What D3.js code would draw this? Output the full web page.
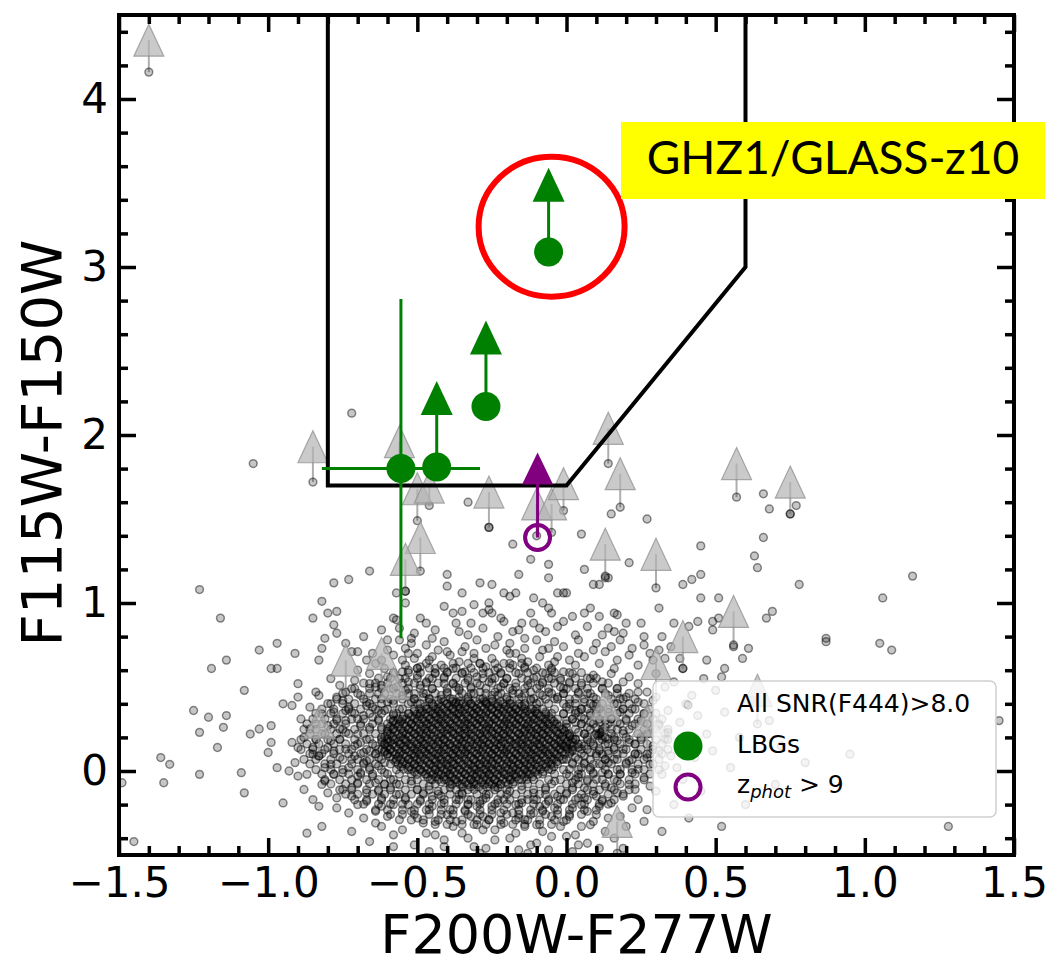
<!DOCTYPE html>
<html>
<head>
<meta charset="utf-8">
<script src="https://cdn.jsdelivr.net/npm/d3@7"></script>
<style>
  html, body { margin: 0; padding: 0; background: #fff; }
  svg { display: block; }
</style>
</head>
<body>
<svg id="chart" width="1051" height="967"></svg>
<script>
// ---- axes ----
const xDomain = [-1.5, 1.5];
const yDomain = [-0.5, 4.5];
const xTicks = [-1.5, -1.0, -0.5, 0.0, 0.5, 1.0, 1.5];
const yTicks = [0, 1, 2, 3, 4];
const xLabel = "F200W-F277W";
const yLabel = "F115W-F150W";

// ---- colour-selection window (F200W-F277W, F115W-F150W) ----
const selectionX = [-0.8, -0.8, 0.0, 0.6, 0.6];
const selectionY = [4.8, 1.7, 1.7, 3.0, 4.8];

// ---- Lyman-break candidates ----
const lbgX     = [-0.06, -0.27, -0.435, -0.555];
const lbgY     = [3.09, 2.17, 1.81, 1.80];
const lbgLimit = [3.49, 2.58, 2.22, null];   // lower limit on F115W-F150W
const lbgXErr  = [0, 0, 0, 0.265];
const lbgYErr  = [0, 0, 0, 1.01];

// ---- z_phot > 9 candidate ----
const zphotX = [-0.097];
const zphotY = [1.39];
const zphotLimit = [1.80];

// ---- catalogue sources with F115W dropout (x, colour, lower limit) ----
const limitSources = [
  [-1.40, 4.16, 4.35], [-0.85, 1.72, 1.93], [-0.56, 1.75, 1.96], [-0.50, 1.49, 1.68],
  [-0.46, 1.58, 1.69], [-0.26, 1.45, 1.66], [-0.49, 1.19, 1.39], [-0.54, 1.07, 1.26],
  [-0.10, 1.40, 1.59], [-0.05, 1.42, 1.59], [-0.01, 1.55, 1.71], [0.14, 1.83, 2.04],
  [0.18, 1.57, 1.77], [0.57, 1.63, 1.83], [0.75, 1.53, 1.72], [0.13, 1.16, 1.35],
  [0.30, 1.09, 1.29], [0.56, 0.75, 0.95], [0.39, 0.61, 0.80], [0.64, 0.28, 0.48],
  [-0.74, 0.47, 0.66], [-0.62, 0.51, 0.70], [-0.58, 0.33, 0.52], [-0.83, 0.09, 0.29],
  [0.17, -0.49, -0.30], [0.13, 0.20, 0.40], [0.27, 0.10, 0.30], [0.30, 0.44, 0.64]
];

// ---- all sources with SNR(F444W) > 8: dense core, row by row (colour, [x...]) ----
const coreRows = [
  [.415, [-.411,-.384,-.357,-.330,-.303,-.276,-.249,-.222]],
  [.400, [-.429,-.402,-.375,-.348,-.321,-.294,-.267,-.240,-.213,-.186,-.159]],
  [.385, [-.474,-.447,-.420,-.393,-.366,-.339,-.312,-.285,-.258,-.231,-.204,-.177,-.150]],
  [.370, [-.492,-.465,-.438,-.411,-.384,-.357,-.330,-.303,-.276,-.249,-.222,-.195,-.168,-.141,-.114]],
  [.355, [-.510,-.483,-.456,-.429,-.402,-.375,-.348,-.321,-.294,-.267,-.240,-.213,-.186,-.159,-.132,-.105]],
  [.340, [-.528,-.501,-.474,-.447,-.420,-.393,-.366,-.339,-.312,-.285,-.258,-.231,-.204,-.177,-.150,-.123,-.096,-.069]],
  [.325, [-.546,-.519,-.492,-.465,-.438,-.411,-.384,-.357,-.330,-.303,-.276,-.249,-.222,-.195,-.168,-.141,-.114,-.087,-.060]],
  [.310, [-.564,-.537,-.510,-.483,-.456,-.429,-.402,-.375,-.348,-.321,-.294,-.267,-.240,-.213,-.186,-.159,-.132,-.105,-.078,-.051]],
  [.295, [-.582,-.555,-.528,-.501,-.474,-.447,-.420,-.393,-.366,-.339,-.312,-.285,-.258,-.231,-.204,-.177,-.150,-.123,-.096,-.069,-.042]],
  [.280, [-.573,-.546,-.519,-.492,-.465,-.438,-.411,-.384,-.357,-.330,-.303,-.276,-.249,-.222,-.195,-.168,-.141,-.114,-.087,-.060,-.033]],
  [.265, [-.591,-.564,-.537,-.510,-.483,-.456,-.429,-.402,-.375,-.348,-.321,-.294,-.267,-.240,-.213,-.186,-.159,-.132,-.105,-.078,-.051,-.024]],
  [.250, [-.582,-.555,-.528,-.501,-.474,-.447,-.420,-.393,-.366,-.339,-.312,-.285,-.258,-.231,-.204,-.177,-.150,-.123,-.096,-.069,-.042,-.015]],
  [.235, [-.600,-.573,-.546,-.519,-.492,-.465,-.438,-.411,-.384,-.357,-.330,-.303,-.276,-.249,-.222,-.195,-.168,-.141,-.114,-.087,-.060,-.033,-.006]],
  [.220, [-.591,-.564,-.537,-.510,-.483,-.456,-.429,-.402,-.375,-.348,-.321,-.294,-.267,-.240,-.213,-.186,-.159,-.132,-.105,-.078,-.051,-.024,.003]],
  [.205, [-.609,-.582,-.555,-.528,-.501,-.474,-.447,-.420,-.393,-.366,-.339,-.312,-.285,-.258,-.231,-.204,-.177,-.150,-.123,-.096,-.069,-.042,-.015,.012]],
  [.190, [-.600,-.573,-.546,-.519,-.492,-.465,-.438,-.411,-.384,-.357,-.330,-.303,-.276,-.249,-.222,-.195,-.168,-.141,-.114,-.087,-.060,-.033,-.006,.021]],
  [.175, [-.618,-.591,-.564,-.537,-.510,-.483,-.456,-.429,-.402,-.375,-.348,-.321,-.294,-.267,-.240,-.213,-.186,-.159,-.132,-.105,-.078,-.051,-.024,.003]],
  [.160, [-.609,-.582,-.555,-.528,-.501,-.474,-.447,-.420,-.393,-.366,-.339,-.312,-.285,-.258,-.231,-.204,-.177,-.150,-.123,-.096,-.069,-.042,-.015,.012,.039]],
  [.145, [-.600,-.573,-.546,-.519,-.492,-.465,-.438,-.411,-.384,-.357,-.330,-.303,-.276,-.249,-.222,-.195,-.168,-.141,-.114,-.087,-.060,-.033,-.006,.021]],
  [.130, [-.618,-.591,-.564,-.537,-.510,-.483,-.456,-.429,-.402,-.375,-.348,-.321,-.294,-.267,-.240,-.213,-.186,-.159,-.132,-.105,-.078,-.051,-.024,.003]],
  [.115, [-.609,-.582,-.555,-.528,-.501,-.474,-.447,-.420,-.393,-.366,-.339,-.312,-.285,-.258,-.231,-.204,-.177,-.150,-.123,-.096,-.069,-.042,-.015,.012]],
  [.100, [-.600,-.573,-.546,-.519,-.492,-.465,-.438,-.411,-.384,-.357,-.330,-.303,-.276,-.249,-.222,-.195,-.168,-.141,-.114,-.087,-.060,-.033,-.006]],
  [.085, [-.591,-.564,-.537,-.510,-.483,-.456,-.429,-.402,-.375,-.348,-.321,-.294,-.267,-.240,-.213,-.186,-.159,-.132,-.105,-.078,-.051,-.024]],
  [.070, [-.582,-.555,-.528,-.501,-.474,-.447,-.420,-.393,-.366,-.339,-.312,-.285,-.258,-.231,-.204,-.177,-.150,-.123,-.096,-.069,-.042,-.015]],
  [.055, [-.573,-.546,-.519,-.492,-.465,-.438,-.411,-.384,-.357,-.330,-.303,-.276,-.249,-.222,-.195,-.168,-.141,-.114,-.087,-.060,-.033]],
  [.040, [-.564,-.537,-.510,-.483,-.456,-.429,-.402,-.375,-.348,-.321,-.294,-.267,-.240,-.213,-.186,-.159,-.132,-.105,-.078,-.051]],
  [.025, [-.555,-.528,-.501,-.474,-.447,-.420,-.393,-.366,-.339,-.312,-.285,-.258,-.231,-.204,-.177,-.150,-.123,-.096,-.069,-.042]],
  [.010, [-.546,-.519,-.492,-.465,-.438,-.411,-.384,-.357,-.330,-.303,-.276,-.249,-.222,-.195,-.168,-.141,-.114,-.087,-.060]],
  [-.005, [-.510,-.483,-.456,-.429,-.402,-.375,-.348,-.321,-.294,-.267,-.240,-.213,-.186,-.159,-.132,-.105,-.078]],
  [-.020, [-.501,-.474,-.447,-.420,-.393,-.366,-.339,-.312,-.285,-.258,-.231,-.204,-.177,-.150,-.123,-.096]],
  [-.035, [-.465,-.438,-.411,-.384,-.357,-.330,-.303,-.276,-.249,-.222,-.195,-.168,-.141,-.114]],
  [-.050, [-.456,-.429,-.402,-.375,-.348,-.321,-.294,-.267,-.240,-.213,-.186,-.159,-.132]],
  [-.065, [-.420,-.393,-.366,-.339,-.312,-.285,-.258,-.231,-.204,-.177]],
  [-.080, [-.384,-.357,-.330,-.303,-.276,-.249,-.222,-.195]],
  [-.095, [-.348,-.321,-.294,-.267,-.240]]
];

// ---- all sources with SNR(F444W) > 8: main body around the core, row by row ----
const bodyRows = [
  [.640, [-.38,-.33,-.29,-.24,-.19,-.15]],
  [.612, [-.50,-.46,-.41,-.37,-.32,-.28,-.23,-.19,-.14,-.10,-.05]],
  [.585, [-.58,-.53,-.49,-.44,-.40,-.35,-.31,-.26,-.22,-.17,-.13,-.08,-.04,.01,.05]],
  [.552, [-.63,-.59,-.54,-.50,-.46,-.41,-.37,-.33,-.28,-.24,-.20,-.15,-.11,-.06,-.02,.03,.07,.10]],
  [.523, [-.68,-.64,-.60,-.55,-.51,-.47,-.43,-.38,-.34,-.30,-.25,-.21,-.17,-.12,-.08,-.04,.01,.05,.09,.14]],
  [.491, [-.71,-.66,-.62,-.58,-.53,-.49,-.45,-.40,-.36,-.32,-.27,-.23,-.19,-.14,-.10,-.06,-.01,.03,.07,.12,.17]],
  [.462, [-.75,-.70,-.66,-.61,-.57,-.53,-.48,-.44,-.40,-.35,-.31,-.27,-.22,-.18,-.14,-.09,-.05,-.01,.04,.08,.13,.17,.21]],
  [.428, [-.77,-.73,-.68,-.64,-.59,-.55,-.51,-.46,-.42,-.38,-.33,-.29,-.25,-.20,-.16,-.12,-.07,-.03,.01,.06,.10,.15,.19,.23]],
  [.401, [-.80,-.75,-.71,-.66,-.62,-.58,-.53,-.49,-.45,-.40,-.36,-.32,-.27,-.23,-.19,-.14,-.10,-.06,-.01,.03,.08,.12,.17,.21,.26]],
  [.368, [-.82,-.78,-.73,-.69,-.64,-.60,-.56,-.51,-.47,-.43,-.38,-.34,-.30,-.25,-.21,-.17,-.12,-.08,-.04,.01,.05,.10,.14,.19,.23,.28]],
  [.343, [-.84,-.79,-.75,-.71,-.66,-.62,-.57,-.53,-.49,-.44,-.40,-.36,-.31,-.27,-.23,-.18,-.14,-.10,-.05,-.01,.03,.08,.12,.17,.21,.26,.30]],
  [.309, [-.85,-.81,-.77,-.72,-.68,-.63,-.59,-.55,-.50,-.46,-.42,-.37,-.33,-.29,-.24,-.20,-.16,-.11,-.07,-.03,.02,.06,.11,.15,.20,.24,.29,.32]],
  [.281, [-.87,-.82,-.78,-.74,-.69,-.65,-.60,-.56,-.52,-.47,-.43,-.39,-.34,-.30,-.26,-.21,-.17,-.13,-.08,-.04,.00,.05,.09,.14,.18,.23,.27,.31]],
  [.248, [-.88,-.84,-.79,-.75,-.71,-.66,-.62,-.58,-.53,-.49,-.45,-.40,-.36,-.32,-.27,-.23,-.19,-.14,-.10,-.06,-.01,.03,.08,.12,.17,.21,.26,.30,.34]],
  [.222, [-.86,-.82,-.77,-.73,-.68,-.64,-.60,-.55,-.51,-.47,-.42,-.38,-.34,-.29,-.25,-.21,-.16,-.12,-.08,-.03,.01,.06,.10,.15,.19,.24,.28,.33]],
  [.187, [-.89,-.84,-.80,-.76,-.71,-.67,-.62,-.58,-.54,-.49,-.45,-.41,-.36,-.32,-.28,-.23,-.19,-.15,-.10,-.06,-.02,.03,.07,.12,.16,.21,.25,.30,.34]],
  [.161, [-.87,-.83,-.78,-.74,-.70,-.65,-.61,-.56,-.52,-.48,-.43,-.39,-.35,-.30,-.26,-.22,-.17,-.13,-.09,-.04,.00,.05,.09,.14,.18,.23,.27,.32]],
  [.128, [-.89,-.85,-.81,-.76,-.72,-.67,-.63,-.59,-.54,-.50,-.46,-.41,-.37,-.33,-.28,-.24,-.20,-.15,-.11,-.07,-.02,.02,.07,.11,.16,.20,.25,.29,.34]],
  [.103, [-.86,-.82,-.78,-.73,-.69,-.64,-.60,-.56,-.51,-.47,-.43,-.38,-.34,-.30,-.25,-.21,-.17,-.12,-.08,-.04,.01,.05,.10,.14,.19,.23,.28,.32]],
  [.069, [-.88,-.84,-.79,-.75,-.70,-.66,-.62,-.57,-.53,-.49,-.44,-.40,-.36,-.31,-.27,-.23,-.18,-.14,-.10,-.05,-.01,.04,.08,.13,.17,.22,.26,.31]],
  [.042, [-.86,-.81,-.77,-.72,-.68,-.64,-.59,-.55,-.51,-.46,-.42,-.38,-.33,-.29,-.25,-.20,-.16,-.12,-.07,-.03,.02,.06,.11,.15,.20,.24,.29]],
  [.008, [-.84,-.79,-.75,-.70,-.66,-.62,-.57,-.53,-.49,-.44,-.40,-.36,-.31,-.27,-.23,-.18,-.14,-.10,-.05,-.01,.04,.08,.13,.17,.22,.26,.31]],
  [-.018, [-.82,-.78,-.73,-.69,-.65,-.60,-.56,-.52,-.47,-.43,-.39,-.34,-.30,-.26,-.21,-.17,-.13,-.08,-.04,.00,.05,.09,.14,.18,.23,.28]],
  [-.052, [-.81,-.76,-.72,-.67,-.63,-.58,-.54,-.50,-.45,-.41,-.37,-.32,-.28,-.24,-.19,-.15,-.11,-.06,-.02,.03,.07,.12,.16,.21,.26]],
  [-.077, [-.79,-.74,-.70,-.66,-.61,-.57,-.52,-.48,-.44,-.39,-.35,-.31,-.26,-.22,-.18,-.13,-.09,-.05,.00,.04,.09,.13,.18,.23]],
  [-.112, [-.76,-.72,-.67,-.63,-.59,-.54,-.50,-.46,-.41,-.37,-.33,-.28,-.24,-.20,-.15,-.11,-.07,-.02,.02,.07,.11,.16,.21]],
  [-.138, [-.74,-.70,-.65,-.61,-.56,-.52,-.48,-.43,-.39,-.35,-.30,-.26,-.22,-.17,-.13,-.09,-.04,.00,.05,.09,.14,.19]],
  [-.171, [-.71,-.67,-.62,-.58,-.54,-.49,-.45,-.41,-.36,-.32,-.28,-.23,-.19,-.15,-.10,-.06,-.02,.03,.07,.12,.16]],
  [-.197, [-.68,-.63,-.59,-.55,-.50,-.46,-.42,-.37,-.33,-.29,-.24,-.20,-.16,-.11,-.07,-.03,.02,.06,.11,.14]],
  [-.232, [-.64,-.60,-.55,-.51,-.47,-.42,-.38,-.34,-.29,-.25,-.21,-.16,-.12,-.08,-.03,.01,.06,.10]],
  [-.258, [-.59,-.55,-.51,-.46,-.42,-.38,-.33,-.29,-.25,-.20,-.16,-.12,-.07,-.03,.01,.05]],
  [-.291, [-.52,-.48,-.43,-.39,-.35,-.30,-.26,-.22,-.17,-.13,-.09,-.04,.00]],
  [-.318, [-.44,-.40,-.35,-.31,-.27,-.22,-.18,-.14,-.09,-.05]]
];

// ---- all sources with SNR(F444W) > 8: outskirts of the cloud ----
const fieldPoints = [
  // right shoulder
  [.01,.40],[.03,.36],[.06,.41],[.02,.31],[.05,.28],[.08,.33],[.11,.37],[.04,.23],
  [.07,.20],[.10,.26],[.13,.30],[.02,.17],[.05,.13],[.09,.15],[.12,.21],[.15,.25],
  [.03,.08],[.06,.05],[.10,.09],[.14,.12],[.17,.18],[.01,.01],[.04,-.02],[.08,.02],
  [.12,.04],[.16,.07],[.19,.13],[.02,-.07],[.06,-.10],[.10,-.05],[.14,-.02],[.18,.01],
  [.21,.06],[.00,-.13],[.04,-.16],[.09,-.12],[.13,-.09],[.17,-.06],[.22,-.01],[.24,.10],
  [.20,.20],[.17,.29],[.14,.35],[.09,.44],[.04,.47],[.12,.49],[.18,.43],[.22,.37],
  [.25,.30],[.27,.22],[.29,.15],[.28,.04],[.26,-.04],[.23,-.11],[.19,-.15],[.15,-.19],
  [.11,-.21],[.07,-.24],[.02,-.22],[.31,.27],[.33,.19],[.35,.09],[.32,-.02],[.30,-.12],
  [.34,.36],[.29,.42],[.24,.47],[.19,.53],[.15,.58],[.08,.55],[.38,.29],[.40,.14],
  [.37,.02],[.42,.45],[.36,.53],[-.01,.46],[.00,.26],[.02,.12],[.07,.37],[.11,.18],
  [.13,.07],[.09,-.01],[.05,.32],[.16,.40],[.20,.30],[.23,.16],[.01,.53],[.06,.15],
  [.00,.07],[-.01,.34],[.11,.22],[.12,.235],[.105,.21],[.115,.228],[.095,.215],
  [.00,.38],[.01,.21],[.02,.05],[.02,-.10],[.03,.29],[.04,.14],[.04,-.04],[.05,.37],
  [.06,.22],[.06,.09],[.07,-.06],[.08,.29],[.08,.17],[.09,.04],[.10,-.15],[.10,.34],
  [.11,.12],[.12,-.01],[.13,.26],[.13,.16],[.14,.05],[.15,-.10],[.15,.31],[.16,.20],
  [.17,.10],[.18,-.02],[.18,.35],[.19,.24],[.20,.05],[.21,-.08],[.22,.27],[.23,.10],
  [.24,.01],[.25,.20],[.26,.34],[.27,.08],[.28,-.09],[.29,.25],[.31,.12],[.33,.03],
  [.34,.23],[.03,.19],[.05,.02],[.07,.26],[.09,.39],[.11,.29],[.12,.10],[.14,.19],
  [.16,.14],[.01,-.03],[-.01,.15],[.00,.30],[.06,-.16],[.12,-.18],[.17,-.13],[.21,.17],
  [.19,.37],[.24,.41],[.08,.11],[.04,.35],
  // left shoulder
  [-.62,.43],[-.65,.38],[-.68,.33],[-.63,.30],[-.66,.26],[-.70,.22],[-.62,.20],[-.64,.15],
  [-.68,.11],[-.72,.07],[-.63,.08],[-.66,.02],[-.61,-.01],[-.70,-.03],[-.64,-.07],[-.59,-.10],
  [-.74,.30],[-.76,.19],[-.78,.12],[-.73,.38],[-.77,.44],[-.80,.27],[-.82,.34],[-.84,.19],
  [-.79,.04],[-.75,-.01],[-.81,-.06],[-.72,-.10],[-.67,-.13],[-.62,-.16],[-.77,-.16],[-.70,-.20],
  [-.64,-.24],[-.58,-.20],[-.85,.10],[-.86,.25],[-.69,.45],[-.64,.50],[-.71,.54],[-.76,.51],
  [-.60,.56],[-.66,.58],[-.61,.36],[-.69,.17],[-.74,.13],[-.60,.25],[-.61,.12],[-.63,.03],
  [-.67,.06],[-.78,.35],[-.83,.45],[-.80,-.13],[-.68,-.28],[-.73,-.25],
  [-.91,.05],[-.89,.31],[-.88,.20],[-.87,-.02],[-.86,.38],[-.85,-.17],[-.84,.28],[-.83,.09],
  [-.82,-.08],[-.81,.22],[-.80,.14],[-.79,.40],[-.78,-.02],[-.77,.30],[-.76,.08],[-.75,-.11],
  [-.74,.23],[-.73,.02],[-.72,.35],[-.71,.15],[-.70,-.07],[-.69,.27],[-.68,.05],[-.67,.39],
  [-.66,.19],[-.65,-.03],[-.65,.32],[-.64,.10],[-.63,-.12],[-.62,.26],[-.61,.05],[-.60,.41],
  [-.60,.17],[-.59,-.05],[-.58,.30],[-.62,-.21],[-.67,-.18],[-.72,-.15],[-.77,-.22],[-.66,.12],
  [-.70,.31],[-.74,.36],[-.79,.18],[-.63,.36],[-.61,-.08],[-.69,-.01],[-.71,.09],[-.76,.25],
  [-.81,.02],[-.85,.14],
  // above the core
  [-.55,.45],[-.51,.43],[-.47,.46],[-.43,.42],[-.40,.47],[-.36,.44],[-.32,.46],[-.28,.43],
  [-.24,.47],[-.20,.44],[-.16,.46],[-.12,.42],[-.08,.45],[-.04,.43],[-.57,.50],[-.53,.53],
  [-.49,.51],[-.45,.55],[-.41,.52],[-.37,.50],[-.33,.54],[-.29,.51],[-.25,.55],[-.21,.52],
  [-.17,.50],[-.13,.54],[-.09,.51],[-.05,.55],[-.02,.50],[-.55,.59],[-.49,.62],[-.44,.58],
  [-.38,.61],[-.34,.59],[-.27,.62],[-.22,.58],[-.18,.63],[-.11,.60],[-.06,.63],[-.01,.59],
  [-.46,.66],[-.31,.67],[-.15,.67],[-.03,.68],[-.40,.71],[-.20,.72],[-.50,.40],[-.46,.41],
  [-.14,.39],[-.10,.37],[-.07,.35],[-.55,.37],[-.58,.34],
  [-.84,.47],[-.79,.55],[-.75,.42],[-.72,.49],[-.70,.60],[-.67,.41],[-.66,.52],[-.63,.46],
  [-.61,.61],[-.59,.49],[-.58,.42],[-.56,.55],[-.54,.48],[-.53,.60],[-.51,.46],[-.50,.57],
  [-.48,.44],[-.47,.53],[-.45,.49],[-.44,.61],[-.42,.45],[-.41,.56],[-.39,.43],[-.38,.52],
  [-.36,.48],[-.35,.58],[-.33,.44],[-.32,.50],[-.30,.56],[-.29,.47],[-.27,.41],[-.26,.53],
  [-.24,.60],[-.23,.45],[-.22,.50],[-.20,.55],[-.19,.42],[-.18,.48],[-.16,.58],[-.15,.44],
  [-.13,.51],[-.12,.47],[-.10,.56],[-.09,.41],[-.08,.53],[-.06,.47],[-.05,.60],[-.03,.44],
  [-.02,.54],[.00,.49],[.02,.58],[.03,.43],[.05,.51],[.07,.46],[.09,.57],[.10,.40],
  [.12,.53],[.14,.45],[.16,.61],[.17,.49],[.20,.44],[.21,.56],[.24,.52],[.27,.47],
  [.30,.58],[.33,.50],[-.46,.43],[-.37,.41],[-.28,.58],[-.14,.62],[-.52,.41],[-.25,.45],
  [-.11,.43],[-.40,.59],[-.07,.58],
  [-.62,.84],[-.45,.79],[-.43,.72],[-.30,.78],[-.24,.75],[-.14,.79],[-.04,.77],[.03,.81],
  [.10,.76],[.22,.73],[-.60,.72],[-.35,.71],[-.19,.70],[-.08,.72],[.04,.70],[.13,.71],
  [.28,.70],[.35,.74],
  [-.68,.80],[-.65,.70],[-.62,.66],[-.60,.78],[-.58,.69],[-.56,.85],[-.55,.66],[-.52,.79],
  [-.50,.70],[-.49,.91],[-.47,.75],[-.45,.68],[-.44,.84],[-.42,.63],[-.41,.77],[-.39,.69],
  [-.37,.88],[-.36,.65],[-.34,.74],[-.33,.81],[-.31,.70],[-.29,.64],[-.28,.85],[-.27,.73],
  [-.25,.67],[-.23,.80],[-.22,.91],[-.21,.64],[-.19,.76],[-.17,.70],[-.16,.84],[-.14,.73],
  [-.13,.65],[-.12,.94],[-.10,.78],[-.09,.68],[-.07,.83],[-.06,.73],[-.04,.65],[-.03,.86],
  [-.01,.74],[.01,.66],[.02,.92],[.04,.78],[.06,.68],[.07,.86],[.09,.72],[.11,.64],
  [.12,.81],[.15,.74],[.17,.66],[.18,.78],[.21,.69],[.24,.63],[.26,.75],[.29,.66],
  [.31,.72],[-.47,.64],[-.26,.96],[-.06,.97],[.03,.63],[-.35,.95],
  // below the core
  [-.56,-.08],[-.52,-.06],[-.50,-.11],[-.46,-.09],[-.43,-.12],[-.39,-.10],[-.35,-.13],[-.31,-.11],
  [-.27,-.14],[-.23,-.10],[-.19,-.12],[-.15,-.09],[-.11,-.13],[-.07,-.10],[-.04,-.06],[-.03,-.15],
  [-.54,-.16],[-.49,-.18],[-.45,-.15],[-.41,-.19],[-.37,-.17],[-.33,-.20],[-.29,-.18],[-.25,-.21],
  [-.21,-.17],[-.17,-.20],[-.13,-.17],[-.09,-.21],[-.06,-.18],[-.52,-.24],[-.46,-.23],[-.40,-.26],
  [-.34,-.24],[-.28,-.27],[-.22,-.25],[-.16,-.28],[-.11,-.25],[-.05,-.27],[-.01,-.30],[-.48,-.31],
  [-.38,-.33],[-.30,-.32],[-.24,-.35],[-.14,-.33],[-.08,-.36],[-.56,-.29],[-.44,-.38],[-.33,-.40],
  [-.19,-.40],[-.10,-.43],[.00,-.39],[.05,-.33],[.09,-.30],[.13,-.36],[.18,-.27],[.22,-.22],
  [.26,-.30],[-.27,-.46],[-.41,-.45],[-.58,-.38],[-.62,-.33],[-.06,-.47],[.04,-.44],[.11,-.46],
  [-.16,-.47],
  [-.72,-.36],[-.66,-.42],[-.60,-.27],[-.57,-.14],[-.55,-.35],[-.53,-.20],[-.51,-.44],[-.50,-.28],
  [-.48,-.13],[-.47,-.37],[-.45,-.21],[-.44,-.30],[-.42,-.15],[-.41,-.41],[-.39,-.23],[-.37,-.30],
  [-.36,-.14],[-.35,-.37],[-.33,-.17],[-.32,-.27],[-.31,-.45],[-.30,-.21],[-.28,-.35],[-.27,-.16],
  [-.26,-.29],[-.24,-.41],[-.23,-.19],[-.21,-.31],[-.20,-.14],[-.18,-.25],[-.17,-.37],[-.15,-.19],
  [-.14,-.29],[-.12,-.44],[-.11,-.17],[-.10,-.32],[-.08,-.24],[-.07,-.14],[-.05,-.39],[-.04,-.22],
  [-.02,-.33],[-.01,-.17],[.01,-.27],[.03,-.38],[.05,-.20],[.07,-.43],[.08,-.32],[.10,-.26],
  [.14,-.28],[.16,-.40],[.20,-.33],[.24,-.17],[.27,-.23],[-.64,-.31],[-.58,-.45],[-.46,-.48],
  [-.29,-.49],[-.13,-.49],[.02,-.48],[.19,-.46],
  // right side, partly behind the legend
  [.40,.40],[.44,.33],[.47,.22],[.43,.08],[.39,-.05],[.45,-.12],[.36,-.20],[.41,-.28],
  [.32,-.36],[.50,.48],[.53,.35],[.49,.12],[.55,.02],[.58,.20],[.62,.42],[.68,.30],
  [.72,.15],[.80,.05],[.70,-.08],[.60,-.20],[.52,-.33],[.95,.10],[1.45,.30],[1.28,-.33],
  // isolated sources
  [-.72,2.13],[-1.05,1.83],[-1.23,1.08],[-1.16,.91],[-.97,.76],[-1.03,.72],[-.91,.70],[-1.14,.66],
  [-1.19,.61],[-.99,.61],[-.97,.61],[-1.08,.48],[-.90,.52],[-.90,.44],[-.95,.40],[-.92,.39],
  [-1.25,.36],[-1.20,.32],[-1.14,.33],[-1.15,.26],[-1.23,.23],[-1.06,.22],[-1.03,.25],[-.99,.27],
  [-1.17,.14],[-.99,.17],[-1.00,.11],[-.92,.17],[-.90,.14],[-1.36,.08],[-1.33,.04],[-1.23,-.02],
  [-1.35,-.07],[-1.09,-.01],[-1.08,-.13],[-.97,.02],[-.93,.00],[-.90,-.03],[-.95,-.19],[-.88,-.11],
  [-.87,-.37],[-1.45,-.42],[-1.49,-.07],[-.83,-.21],[-.82,-.33],
  [-.66,1.19],[-.73,1.14],[-.78,1.12],[-.82,1.01],[-.80,.94],[-.77,.95],[-.85,.91],[-.78,.87],
  [-.77,.82],[-.81,.79],[-.82,.73],[-.83,.66],[-.57,1.06],[-.54,1.07],[-.54,1.00],[-.58,.91],
  [-.57,.90],[-.74,.76],[-.72,.71],[-.70,.71],[-.67,.66],[-.64,.64],[-.54,.73],[-.52,.76],
  [-.53,.70],[-.51,.67],[-.54,.63],[-.50,.61],
  [-.33,1.60],[-.26,1.45],[-.18,1.35],[-.12,1.26],[-.06,1.23],[-.06,1.15],[-.16,1.17],[.05,1.41],
  [.15,1.53],[.27,1.50],[.21,1.24],[.06,1.20],[.09,1.11],[.11,1.11],[-.40,1.17],[-.29,1.12],
  [-.25,1.11],[-.40,1.10],[-.35,1.06],[-.31,.99],[-.21,1.06],[-.19,1.04],[-.17,1.06],[-.11,1.03],
  [-.08,1.00],[-.03,1.06],[.00,1.06],[.08,.97],[.11,.92],[.16,.94],[.20,.88],[.25,.88],
  [-.47,.88],[-.51,.82],[-.56,.78],[-.41,.98],[-.38,.94],[-.36,.83],[-.32,.88],[-.28,.94],
  [-.26,1.00],[-.25,.94],[-.21,.89],[-.18,.83],[-.15,.88],[-.11,.88],[-.09,.85],[-.05,.94],
  [-.01,.89],[.06,.94],[.16,.83],[.19,.82],[.26,.80],
  [.45,1.34],[.66,1.39],[.63,1.28],[.64,1.21],[.66,1.65],[.68,1.56],[.77,1.58],[.75,1.53],
  [.78,1.11],[.39,1.11],[.42,1.14],[.45,1.17],[.45,1.03],[.51,1.03],[.31,.97],[.17,.93],
  [.14,.85],[.67,.91],[.69,.95],[.49,.89],[.51,.91],[.49,.84],[.44,.89],[.41,.86],
  [.36,.88],[.32,.80],[.87,.79],[.13,1.15],[.14,1.15],[-.01,1.06],
  [1.16,1.16],[1.06,1.03],[.87,.77],[1.05,.76],[1.09,.72],[.56,.74],[.61,.73],[.59,.67],
  [.53,.61],[.52,.56],[.46,.55],[.47,.66],[.39,.61],[.38,.67],[.33,.67]
];

// ---- legend ----
const legendLabels = ["All SNR(F444)>8.0", "LBGs", "z_phot > 9"];
const highlightLabel = "GHZ1/GLASS-z10";

// ---------------------------------------------------------------
const svg = d3.select("#chart");
const plot = { left: 119, right: 1014, top: 15, bottom: 855 };

const x = d3.scaleLinear().domain(xDomain).range([plot.left, plot.right]);
const y = d3.scaleLinear().domain(yDomain).range([plot.bottom, plot.top]);

svg.append("rect").attr("width", 1051).attr("height", 967).attr("fill", "#fff");

svg.append("defs").append("clipPath").attr("id", "plot-clip")
  .append("rect")
  .attr("x", plot.left).attr("y", plot.top)
  .attr("width", plot.right - plot.left).attr("height", plot.bottom - plot.top);

const area = svg.append("g").attr("clip-path", "url(#plot-clip)");

// field sources: translucent black rings with a faint face
const rowsToPoints = rows => rows.flatMap(([cy, xs]) => xs.map(cx => [cx, cy]));
const fieldAll = rowsToPoints(bodyRows).concat(fieldPoints, rowsToPoints(coreRows));

function fieldDot(sel, k = 1) {
  return sel.attr("r", 3.9)
    .attr("fill", "#000").attr("fill-opacity", 0.22 * k)
    .attr("stroke", "#000").attr("stroke-opacity", 0.45 * k).attr("stroke-width", 1.5);
}

area.append("g").selectAll("circle").data(fieldAll).join("circle")
  .attr("cx", d => x(d[0])).attr("cy", d => y(d[1]))
  .call(fieldDot);

// triangle marker (apex up), centred on its bounding box
function triangle(w, h) {
  return `M0,${-h / 2}L${w / 2},${h / 2}L${-w / 2},${h / 2}Z`;
}

// dropout sources: stem from the measured colour up to the lower-limit marker
const lim = area.append("g");
lim.selectAll("line").data(limitSources).join("line")
  .attr("x1", d => x(d[0])).attr("x2", d => x(d[0]))
  .attr("y1", d => y(d[1])).attr("y2", d => y(d[2]))
  .attr("stroke", "#9a9a9a").attr("stroke-width", 2).attr("stroke-opacity", 0.8);
lim.selectAll("circle").data(limitSources).join("circle")
  .attr("cx", d => x(d[0])).attr("cy", d => y(d[1]))
  .call(fieldDot);
lim.selectAll("path").data(limitSources).join("path")
  .attr("transform", d => `translate(${x(d[0])},${y(d[2])})`)
  .attr("d", triangle(30, 32))
  .attr("fill", "#b4b4b4").attr("fill-opacity", 0.7)
  .attr("stroke", "#8a8a8a").attr("stroke-opacity", 0.7).attr("stroke-width", 1.2);

// selection window
area.append("path")
  .attr("d", d3.line().x((d, i) => x(selectionX[i])).y((d, i) => y(selectionY[i]))(selectionX))
  .attr("fill", "none").attr("stroke", "#000").attr("stroke-width", 4)
  .attr("stroke-linejoin", "miter");

// LBG candidates
const green = "#008000";
const lbg = area.append("g");
lbgX.forEach((lx, i) => {
  if (lbgXErr[i] > 0) {
    lbg.append("line")
      .attr("x1", x(lx - lbgXErr[i])).attr("x2", x(lx + lbgXErr[i]))
      .attr("y1", y(lbgY[i])).attr("y2", y(lbgY[i]))
      .attr("stroke", green).attr("stroke-width", 3);
    lbg.append("line")
      .attr("x1", x(lx)).attr("x2", x(lx))
      .attr("y1", y(lbgY[i] - lbgYErr[i])).attr("y2", y(lbgY[i] + lbgYErr[i]))
      .attr("stroke", green).attr("stroke-width", 3);
  }
  if (lbgLimit[i] !== null) {
    lbg.append("line")
      .attr("x1", x(lx)).attr("x2", x(lx))
      .attr("y1", y(lbgY[i])).attr("y2", y(lbgLimit[i]))
      .attr("stroke", green).attr("stroke-width", 3);
    lbg.append("path")
      .attr("transform", `translate(${x(lx)},${y(lbgLimit[i])})`)
      .attr("d", triangle(32, 34)).attr("fill", green);
  }
  lbg.append("circle").attr("cx", x(lx)).attr("cy", y(lbgY[i])).attr("r", 14.5).attr("fill", green);
});

// z_phot > 9 candidate
const purple = "#800080";
zphotX.forEach((zx, i) => {
  area.append("line")
    .attr("x1", x(zx)).attr("x2", x(zx))
    .attr("y1", y(zphotY[i])).attr("y2", y(zphotLimit[i]))
    .attr("stroke", purple).attr("stroke-width", 3);
  area.append("path")
    .attr("transform", `translate(${x(zx)},${y(zphotLimit[i])})`)
    .attr("d", triangle(31, 32)).attr("fill", purple);
  area.append("circle").attr("cx", x(zx)).attr("cy", y(zphotY[i])).attr("r", 12.5)
    .attr("fill", "none").attr("stroke", purple).attr("stroke-width", 4);
});

// ---- ticks on all four sides, pointing inward ----
const xMinor = d3.range(-15, 16).map(v => v / 10).filter(v => Math.abs(v * 2 - Math.round(v * 2)) > 1e-6);
const yMinor = d3.range(-2, 23).map(v => v / 5).filter(v => Math.abs(v - Math.round(v)) > 1e-6);
const tickFont = "'DejaVu Sans', sans-serif";

function styleAxis(g) {
  g.select(".domain").remove();
  g.selectAll(".tick line").attr("stroke", "#000").attr("stroke-width", 3.5);
  g.selectAll("text").attr("font-family", tickFont).attr("font-size", 42).attr("fill", "#000");
}

const fmtX = d3.format(".1f");
svg.append("g").attr("transform", `translate(0,${plot.bottom})`)
  .call(d3.axisBottom(x).tickValues(xTicks).tickSize(-17).tickPadding(12).tickFormat(fmtX)).call(styleAxis);
svg.append("g").attr("transform", `translate(0,${plot.bottom})`)
  .call(d3.axisBottom(x).tickValues(xMinor).tickSize(-9).tickFormat("")).call(styleAxis);
svg.append("g").attr("transform", `translate(0,${plot.top})`)
  .call(d3.axisTop(x).tickValues(xTicks).tickSize(-17).tickFormat("")).call(styleAxis);
svg.append("g").attr("transform", `translate(0,${plot.top})`)
  .call(d3.axisTop(x).tickValues(xMinor).tickSize(-9).tickFormat("")).call(styleAxis);

svg.append("g").attr("transform", `translate(${plot.left},0)`)
  .call(d3.axisLeft(y).tickValues(yTicks).tickSize(-17).tickPadding(11).tickFormat(d3.format("d"))).call(styleAxis);
svg.append("g").attr("transform", `translate(${plot.left},0)`)
  .call(d3.axisLeft(y).tickValues(yMinor).tickSize(-9).tickFormat("")).call(styleAxis);
svg.append("g").attr("transform", `translate(${plot.right},0)`)
  .call(d3.axisRight(y).tickValues(yTicks).tickSize(-17).tickFormat("")).call(styleAxis);
svg.append("g").attr("transform", `translate(${plot.right},0)`)
  .call(d3.axisRight(y).tickValues(yMinor).tickSize(-9).tickFormat("")).call(styleAxis);

// frame
svg.append("rect")
  .attr("x", plot.left).attr("y", plot.top)
  .attr("width", plot.right - plot.left).attr("height", plot.bottom - plot.top)
  .attr("fill", "none").attr("stroke", "#000").attr("stroke-width", 4);

// axis titles
svg.append("text")
  .attr("x", (plot.left + plot.right) / 2 + 10).attr("y", 953)
  .attr("text-anchor", "middle").attr("font-family", tickFont).attr("font-size", 54)
  .text(xLabel);
svg.append("text")
  .attr("transform", `translate(61,${(plot.top + plot.bottom) / 2 + 8}) rotate(-90)`)
  .attr("text-anchor", "middle").attr("font-family", tickFont).attr("font-size", 56)
  .text(yLabel);

// ---- legend ----
const leg = svg.append("g");
leg.append("rect")
  .attr("x", 653).attr("y", 681).attr("width", 343).attr("height", 136).attr("rx", 6)
  .attr("fill", "#fff").attr("fill-opacity", 0.8)
  .attr("stroke", "#cfcfcf").attr("stroke-width", 1.5);
leg.append("circle").attr("cx", 688).attr("cy", 705).call(fieldDot, 0.35);
leg.append("circle").attr("cx", 688).attr("cy", 746).attr("r", 14.5).attr("fill", green);
leg.append("circle").attr("cx", 688).attr("cy", 787).attr("r", 12.5)
  .attr("fill", "none").attr("stroke", purple).attr("stroke-width", 4);

const legFont = { family: tickFont, size: 25 };
leg.append("text").attr("x", 737).attr("y", 712)
  .attr("font-family", legFont.family).attr("font-size", legFont.size).text(legendLabels[0]);
leg.append("text").attr("x", 737).attr("y", 753)
  .attr("font-family", legFont.family).attr("font-size", legFont.size).text(legendLabels[1]);
const zt = leg.append("text").attr("x", 737).attr("y", 793)
  .attr("font-family", legFont.family).attr("font-size", legFont.size);
const [zMain, zRest] = legendLabels[2].split("_");
const [zSub, zTail] = zRest.split(/ (.*)/s);
zt.append("tspan").text(zMain);
zt.append("tspan").attr("font-style", "italic").attr("font-size", 18).attr("dy", 5).text(zSub);
zt.append("tspan").attr("dy", -5).text(" " + zTail);

// ---- highlighted source ----
const hx = lbgX[0], hy = lbgY[0] + 0.15;
svg.append("ellipse")
  .attr("cx", x(hx) + 3).attr("cy", y(hy)).attr("rx", 73).attr("ry", 70)
  .attr("fill", "none").attr("stroke", "#ff0000").attr("stroke-width", 6);
svg.append("rect").attr("x", 621).attr("y", 122).attr("width", 424).attr("height", 77)
  .attr("fill", "#ffff00");
svg.append("text").attr("x", 833).attr("y", 174).attr("text-anchor", "middle")
  .attr("font-family", "Lato, 'Open Sans', sans-serif").attr("font-size", 46)
  .attr("fill", "#000").text(highlightLabel);
</script>
</body>
</html>
